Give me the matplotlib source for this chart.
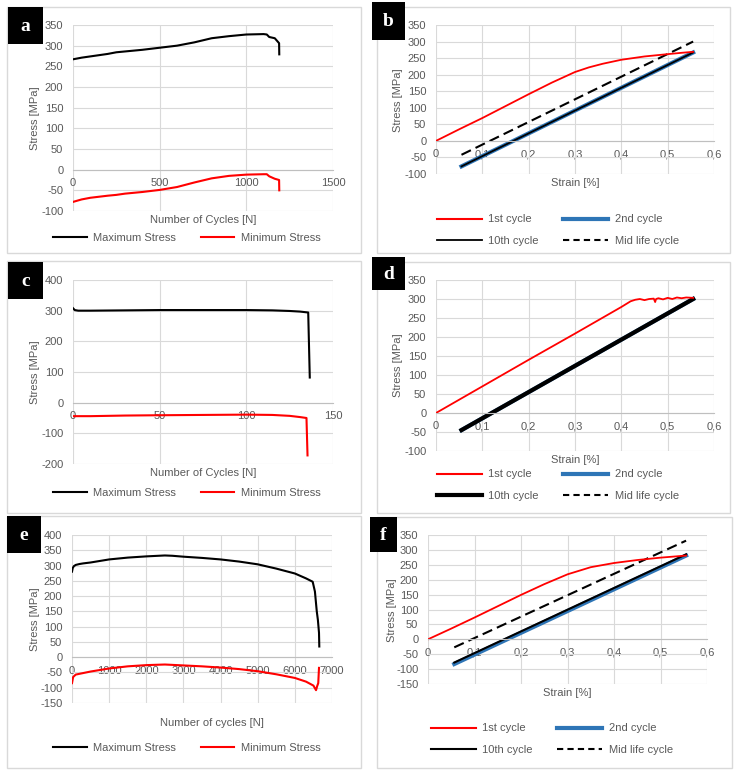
import matplotlib.pyplot as plt
from matplotlib.patches import Rectangle
from matplotlib.lines import Line2D

W, H = 749, 778
plt.rcParams['font.family'] = ['Liberation Sans', 'DejaVu Sans']
plt.rcParams['axes.unicode_minus'] = False

TXT = '#595959'
GRID = '#d9d9d9'
RED = '#ff0000'
BLUE = '#2e75b6'

# ---- data ----
# a: stress vs number of cycles
a_cycles = [0, 50, 100, 200, 250, 300, 400, 500, 600, 700, 800, 900, 1000, 1100, 1118, 1132, 1164, 1189, 1190]
a_max = [267, 271, 274, 280, 284, 286, 290, 295, 300, 308, 318, 323, 327, 328, 327, 321, 318, 306, 279]
a_min = [-78, -72, -68, -63, -61, -58, -54, -49, -42, -31, -21, -15, -12, -11, -11, -16, -22, -25, -50]

# b: hysteresis branches
b_strain1 = [0, 0.05, 0.1, 0.15, 0.2, 0.25, 0.3, 0.33, 0.36, 0.4, 0.45, 0.5, 0.53, 0.555]
b_stress1 = [0, 35, 69, 105, 141, 176, 208, 222, 233, 245, 255, 262, 266, 269]
b_strain2 = [0.055, 0.555]
b_stress2 = [-77, 267]
b_stress10 = [-77, 267]
b_stress_mid = [-42, 300]

# c
c_max_cycles = [0, 1, 3, 10, 30, 50, 75, 100, 115, 125, 131, 135.7, 136.6]
c_max = [308, 302, 300, 300, 301, 302, 302, 302, 301, 299, 297, 294, 82]
c_min_cycles = [0, 10, 30, 50, 75, 100, 115, 125, 131, 134.7, 135.3]
c_min = [-44, -44, -42, -41, -40, -39, -40, -43, -47, -50, -172]

# d
d_strain1 = [0, 0.1, 0.2, 0.3, 0.4, 0.42, 0.43, 0.44, 0.45, 0.46, 0.47, 0.473, 0.475,
             0.48, 0.49, 0.5, 0.51, 0.52, 0.53, 0.54, 0.555]
d_stress1 = [0, 70, 140, 209, 279, 294, 298, 300, 297, 300, 301, 292, 300,
             302, 299, 303, 300, 304, 302, 304, 303]
d_strain2 = [0.055, 0.555]
d_stress2 = [-45, 300]
d_stress10 = [-45, 300]
d_stress_mid = [-45, 300]

# e
e_max_cycles = [0, 20, 50, 100, 200, 300, 500, 1000, 1500, 2000, 2500, 2700, 3000, 3500, 4000,
                4500, 5000, 5500, 6000, 6300, 6480, 6540, 6590, 6620, 6650, 6658]
e_max = [280, 292, 298, 302, 305, 307, 310, 320, 326, 330, 333, 332, 329, 325, 320,
         313, 304, 290, 274, 258, 247, 215, 150, 122, 80, 35]
e_min_cycles = [0, 30, 100, 300, 500, 1000, 1500, 2000, 2500, 3000, 3500, 4000, 4500, 5000,
                5500, 6000, 6300, 6500, 6570, 6600, 6630, 6650]
e_min = [-85, -65, -57, -52, -47, -37, -30, -26, -24, -27, -30, -34, -39, -46,
         -56, -68, -80, -93, -108, -95, -85, -35]

# f
f_strain1 = [0, 0.05, 0.1, 0.15, 0.2, 0.25, 0.3, 0.35, 0.4, 0.45, 0.5, 0.555]
f_stress1 = [0, 36, 73, 111, 149, 185, 218, 242, 256, 266, 274, 281]
f_strain2 = [0.0565, 0.555]
f_stress2 = [-83, 281]
f_stress10 = [-78, 285]
f_stress_mid = [-27, 331]

strain_ticks = [0, 0.1, 0.2, 0.3, 0.4, 0.5, 0.6]
strain_labels = ['0', '0,1', '0,2', '0,3', '0,4', '0,5', '0,6']

fig = plt.figure(figsize=(W / 100, H / 100), dpi=100)


def fx(x):
    return x / W


def fy(y):
    return 1 - y / H


def frame(box, letter, lbox):
    x0, y0, x1, y1 = box
    fig.add_artist(Rectangle((fx(x0), fy(y1)), (x1 - x0) / W, (y1 - y0) / H,
                             transform=fig.transFigure, fill=False, ec=GRID, lw=1))
    lx0, ly0, lx1, ly1 = lbox
    fig.add_artist(Rectangle((fx(lx0), fy(ly1)), (lx1 - lx0) / W, (ly1 - ly0) / H,
                             transform=fig.transFigure, fc='black', ec='none'))
    fig.text(fx((lx0 + lx1) / 2), fy((ly0 + ly1) / 2 + 1), letter, color='white',
             family='Liberation Serif', weight='bold', size=14, ha='center', va='center')


def make_axes(rect, xticks, xlabels, yticks):
    x0, y0, x1, y1 = rect
    ax = fig.add_axes([fx(x0), fy(y1), (x1 - x0) / W, (y1 - y0) / H])
    ax.set_xlim(xticks[0], xticks[-1])
    ax.set_ylim(yticks[0], yticks[-1])
    ax.set_xticks(xticks, xlabels)
    ax.set_yticks(yticks)
    ax.grid(True, color=GRID, lw=0.8)
    ax.set_axisbelow(True)
    for s in ['top', 'right', 'left']:
        ax.spines[s].set_visible(False)
    ax.spines['bottom'].set_position(('data', 0))
    ax.spines['bottom'].set_color('#bfbfbf')
    ax.spines['bottom'].set_linewidth(0.8)
    ax.tick_params(length=0, labelsize=8, labelcolor=TXT)
    ax.tick_params(axis='x', pad=6)
    ax.tick_params(axis='y', pad=7)
    return ax


def labels(xlab, xpos, ylab, ypos):
    fig.text(fx(xpos[0]), fy(xpos[1]), xlab, ha='center', va='center', fontsize=8, color=TXT)
    fig.text(fx(ypos[0]), fy(ypos[1]), ylab, ha='center', va='center', fontsize=8,
             color=TXT, rotation=90)


def legend(handles, names, center, ncol, hl):
    fig.legend(handles, names, loc='center', bbox_to_anchor=(fx(center[0]), fy(center[1])),
               ncol=ncol, frameon=False, fontsize=8, labelcolor=TXT, handlelength=hl,
               columnspacing=2.2, labelspacing=1.0, handletextpad=0.6)


def cycles_panel(box, letter, lbox, rect, xticks, yticks, xs_max, ys_max, xs_min, ys_min,
                 xlab, xlpos, ylpos, legpos):
    frame(box, letter, lbox)
    ax = make_axes(rect, xticks, [str(t) for t in xticks], yticks)
    ax.plot(xs_max, ys_max, color='black', lw=1.5)
    ax.plot(xs_min, ys_min, color=RED, lw=1.5)
    labels(xlab, xlpos, 'Stress [MPa]', ylpos)
    hs = [Line2D([], [], color='black', lw=1.5), Line2D([], [], color=RED, lw=1.5)]
    legend(hs, ['Maximum Stress', 'Minimum Stress'], legpos, 2, 3.0)


def loop_panel(box, letter, lbox, rect, yticks, s1, y1, s2, y2, y10, ymid, lw10,
               xlpos, ylpos, legpos):
    frame(box, letter, lbox)
    ax = make_axes(rect, strain_ticks, strain_labels, yticks)
    ax.plot(s2, ymid, color='black', lw=1.5, ls=(0, (5, 2.5)))
    ax.plot(s2, y2, color=BLUE, lw=3)
    ax.plot(s2, y10, color='black', lw=lw10)
    ax.plot(s1, y1, color=RED, lw=1.3)
    labels('Strain [%]', xlpos, 'Stress [MPa]', ylpos)
    hs = [Line2D([], [], color=RED, lw=1.5),
          Line2D([], [], color='black', lw=lw10),
          Line2D([], [], color=BLUE, lw=3),
          Line2D([], [], color='black', lw=1.5, ls=(0, (3, 2)))]
    legend(hs, ['1st cycle', '10th cycle', '2nd cycle', 'Mid life cycle'], legpos, 2, 4.0)


cycles_panel((7, 7, 361, 253), 'a', (8, 7, 43, 44), (73, 25, 333, 211),
             [0, 500, 1000, 1500], list(range(-100, 351, 50)),
             a_cycles, a_max, a_cycles, a_min,
             'Number of Cycles [N]', (203, 220), (35, 118), (187, 238))

loop_panel((377, 7, 730, 253), 'b', (372, 2, 405, 40), (436, 25, 714, 174),
           list(range(-100, 351, 50)), b_strain1, b_stress1, b_strain2, b_stress2,
           b_stress10, b_stress_mid, 1.3, (575, 183), (398, 100), (558, 230))

cycles_panel((7, 261, 361, 513), 'c', (8, 262, 43, 299), (73, 280, 333, 464),
             [0, 50, 100, 150], list(range(-200, 401, 100)),
             c_max_cycles, c_max, c_min_cycles, c_min,
             'Number of Cycles [N]', (203, 473), (35, 372), (187, 493))

loop_panel((377, 262, 730, 513), 'd', (372, 257, 405, 290), (436, 280, 714, 451),
           list(range(-100, 351, 50)), d_strain1, d_stress1, d_strain2, d_stress2,
           d_stress10, d_stress_mid, 3.0, (575, 460), (398, 365), (558, 485))

cycles_panel((7, 516, 361, 768), 'e', (7, 516, 41, 553), (72, 535, 332, 703),
             list(range(0, 7001, 1000)), list(range(-150, 401, 50)),
             e_max_cycles, e_max, e_min_cycles, e_min,
             'Number of cycles [N]', (212, 723), (35, 619), (187, 748))

loop_panel((377, 517, 732, 768), 'f', (370, 517, 397, 552), (428, 535, 707, 684),
           list(range(-150, 351, 50)), f_strain1, f_stress1, f_strain2, f_stress2,
           f_stress10, f_stress_mid, 1.5, (567, 693), (392, 610), (552, 739))

fig.savefig('out.png', dpi=100)
